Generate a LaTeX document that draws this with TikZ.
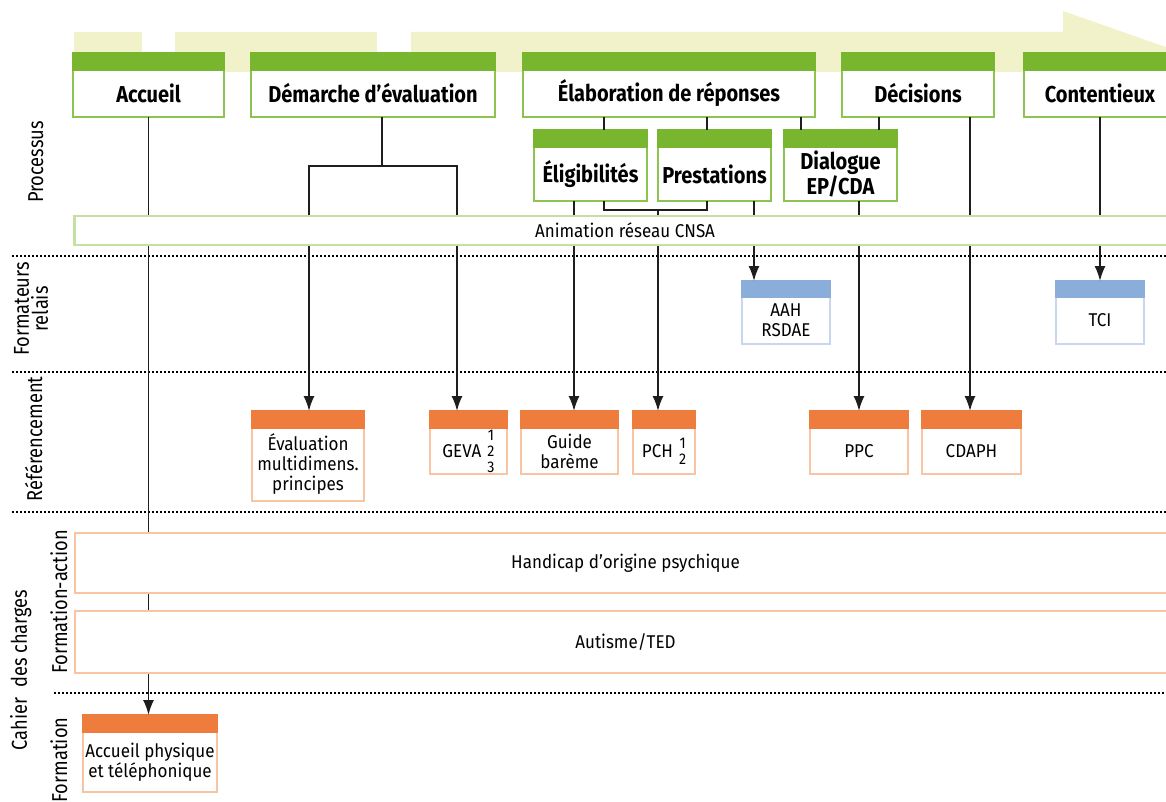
\documentclass[tikz,border=0pt]{standalone}
\usepackage{fontspec}
\setmainfont{Fira Sans}[FakeStretch=0.92]
\newfontfamily\titlefont{Fira Sans}[FakeStretch=0.87]
\newfontfamily\labfont{Fira Sans}[FakeStretch=0.85]
\usetikzlibrary{positioning,arrows.meta}

\definecolor{banner}{HTML}{F1F2C9}
\definecolor{pgreen}{HTML}{79B62F}
\definecolor{pgreenl}{HTML}{8DC450}
\definecolor{animgreen}{HTML}{C6DFA3}
\definecolor{porange}{HTML}{EE7D3D}
\definecolor{porangel}{HTML}{F8C4A2}
\definecolor{pblue}{HTML}{8BADDA}
\definecolor{pbluel}{HTML}{C8D7EF}
\definecolor{linegray}{HTML}{1E1E1E}

\newcommand{\nums}[1]{\raisebox{0pt}[0pt][0pt]{\fontsize{15.5}{16}\selectfont\begin{tabular}[c]{@{}c@{}}#1\end{tabular}}}

\tikzset{
  conn/.style={draw=linegray, line width=1.6pt},
  arr/.style={conn, -{Latex[length=15pt,width=11pt]}},
  sep/.style={line width=1.6pt, dash pattern=on 1.6pt off 2.4pt},
  lab/.style={rotate=90, anchor=base, font={\labfont\fontsize{21.5}{19}\selectfont}},
  box/.style={fill=white, inner sep=0pt, outer sep=0pt, align=center},
  head/.style={inner sep=0pt, outer sep=0pt, above=0pt of #1},
  gbox/.style={box, draw=pgreenl, line width=1.5pt, font={\titlefont\bfseries\fontsize{23}{23}\selectfont}},
  gbar/.style={head=#1, fill=pgreen, draw=pgreen, line width=1.5pt, minimum height=17pt},
  obox/.style={box, draw=porangel, line width=1.5pt, font={\fontsize{18.5}{20}\selectfont}},
  obar/.style={head=#1, fill=porange, draw=porange, line width=1.5pt, minimum height=17pt},
  bbox/.style={box, draw=pbluel, line width=1.5pt, font={\fontsize{18.5}{20}\selectfont}},
  bbar/.style={head=#1, fill=pblue, draw=pblue, line width=1.5pt, minimum height=16pt},
  band/.style={box, minimum width=1101pt, font={\fontsize{18.5}{20}\selectfont}},
}

\begin{document}
\begin{tikzpicture}[x=1pt,y=-1pt]
  \useasboundingbox (0,0) rectangle (1166,802);
  % bandeau
  \fill[banner] (74,32) rectangle (142,72);
  \fill[banner] (175,32) rectangle (377,72);
  \fill[banner] (411,32) -- (1063,32) -- (1063,11) -- (1180,52) -- (1063,93) -- (1063,72) -- (411,72) -- cycle;
  % separateurs
  \draw[sep] (12,256) -- (1166,256);
  \draw[sep] (12,372) -- (1166,372);
  \draw[sep] (12,512) -- (1166,512);
  \draw[sep] (54,693) -- (1166,693);
  % etiquettes
  \node[lab] (proc) at (43,162) {Processus};
  \node[lab, anchor=center, align=center] (frel) at (31,309) {Formateurs\\relais};
  \node[lab] (refe) at (42,439) {Référencement};
  \node[lab] (cdc) at (27,670) {Cahier\ \ des charges};
  \node[lab] (fact) at (67,602) {Formation-action};
  \node[lab] (form) at (67,760) {Formation};
  % processus
  \node[gbox, minimum width=151pt, minimum height=47pt] (acc) at (148.5,93.5) {Accueil};
  \node[gbar=acc, minimum width=151pt] (acch) {};
  \node[gbox, minimum width=244pt, minimum height=47pt] (dem) at (373,93.5) {Démarche d’évaluation};
  \node[gbar=dem, minimum width=244pt] (demh) {};
  \node[gbox, minimum width=292pt, minimum height=47pt] (elab) at (669,93.5) {Élaboration de réponses};
  \node[gbar=elab, minimum width=292pt] (elabh) {};
  \node[gbox, minimum width=152pt, minimum height=47pt] (dec) at (918,93.5) {Décisions};
  \node[gbar=dec, minimum width=152pt] (dech) {};
  \node[gbox, minimum width=152pt, minimum height=47pt] (cont) at (1100,93.5) {Contentieux};
  \node[gbar=cont, minimum width=152pt] (conth) {};
  \node[gbox, minimum width=113pt, minimum height=54pt] (elig) at (590.5,174) {Éligibilités};
  \node[gbar=elig, minimum width=113pt] (eligh) {};
  \node[gbox, minimum width=113pt, minimum height=54pt] (prest) at (714.5,174) {Prestations};
  \node[gbar=prest, minimum width=113pt] (presth) {};
  \node[gbox, minimum width=113pt, minimum height=54pt] (dial) at (840.5,174) {Dialogue\\EP/CDA};
  \node[gbar=dial, minimum width=113pt] (dialh) {};
  % formateurs relais
  \node[bbox, minimum width=88pt, minimum height=47pt] (aah) at (786,320.5) {AAH\\RSDAE};
  \node[bbar=aah, minimum width=88pt] (aahh) {};
  \node[bbox, minimum width=88pt, minimum height=47pt] (tci) at (1100,320.5) {TCI};
  \node[bbar=tci, minimum width=88pt] (tcih) {};
  % referencement
  \node[obox, minimum width=112pt, minimum height=73pt] (eval) at (308,464.5) {Évaluation\\multidimens.\\principes};
  \node[obar=eval, minimum width=112pt] (evalh) {};
  \node[obox, minimum width=77pt, minimum height=46pt] (geva) at (468.5,451) {GEVA\,\,\nums{1\\2\\3}};
  \node[obar=geva, minimum width=77pt] (gevah) {};
  \node[obox, minimum width=97pt, minimum height=46pt] (guide) at (569.5,451) {Guide\\barème};
  \node[obar=guide, minimum width=97pt] (guideh) {};
  \node[obox, minimum width=62pt, minimum height=46pt] (pch) at (664,451) {PCH\,\,\nums{1\\2}};
  \node[obar=pch, minimum width=62pt] (pchh) {};
  \node[obox, minimum width=98pt, minimum height=46pt] (ppc) at (859,451) {PPC};
  \node[obar=ppc, minimum width=98pt] (ppch) {};
  \node[obox, minimum width=99pt, minimum height=46pt] (cdaph) at (971.5,451) {CDAPH};
  \node[obar=cdaph, minimum width=99pt] (cdaphh) {};
  % formation
  \node[obox, minimum width=134pt, minimum height=60pt] (accph) at (150,762) {Accueil physique\\et téléphonique};
  \node[obar=accph, minimum width=134pt] (accphh) {};
  % liens
  \coordinate (fork) at (382,166);
  \coordinate (brk) at (658,210);
  \draw[arr] (acc.south) -- ([xshift=-1.5pt]accphh.north);
  \draw[conn] ([xshift=9pt]dem.south) -- (fork);
  \draw[arr] (fork) -| ([xshift=1pt]evalh.north);
  \draw[arr] (fork) -| ([xshift=-11.5pt]gevah.north);
  \draw[conn] ([xshift=-65pt]elab.south) -- ([xshift=13.5pt]eligh.north);
  \draw[conn] ([xshift=38pt]elab.south) -- ([xshift=-7.5pt]presth.north);
  \draw[conn] ([xshift=132pt]elab.south) -- ([xshift=-39.5pt]dialh.north);
  \draw[conn] ([xshift=-39pt]dec.south) -- ([xshift=38.5pt]dialh.north);
  \draw[arr] ([xshift=52pt]dec.south) -- ([xshift=-1.5pt]cdaphh.north);
  \draw[arr] (cont.south) -- (tcih.north);
  \draw[arr] ([xshift=-16.5pt]elig.south) -- ([xshift=4.5pt]guideh.north);
  \draw[conn] ([xshift=13.5pt]elig.south) |- (brk) -| ([xshift=-7.5pt]prest.south);
  \draw[arr] (brk) -- ([xshift=-6pt]pchh.north);
  \draw[arr] ([xshift=39.5pt]prest.south) -- ([xshift=-32pt]aahh.north);
  \draw[arr] ([xshift=18.5pt]dial.south) -- (ppch.north);
  % bandes
  \node[band, draw=animgreen, line width=2.5pt, minimum height=29pt] (cnsa) at (625,230.5) {Animation réseau CNSA};
  \node[band, draw=porangel, line width=1.5pt, minimum height=60pt] (psy) at (625.5,563) {Handicap d’origine psychique};
  \node[band, draw=porangel, line width=1.5pt, minimum height=62pt] (ted) at (625.5,642) {Autisme/TED};
\end{tikzpicture}
\end{document}
